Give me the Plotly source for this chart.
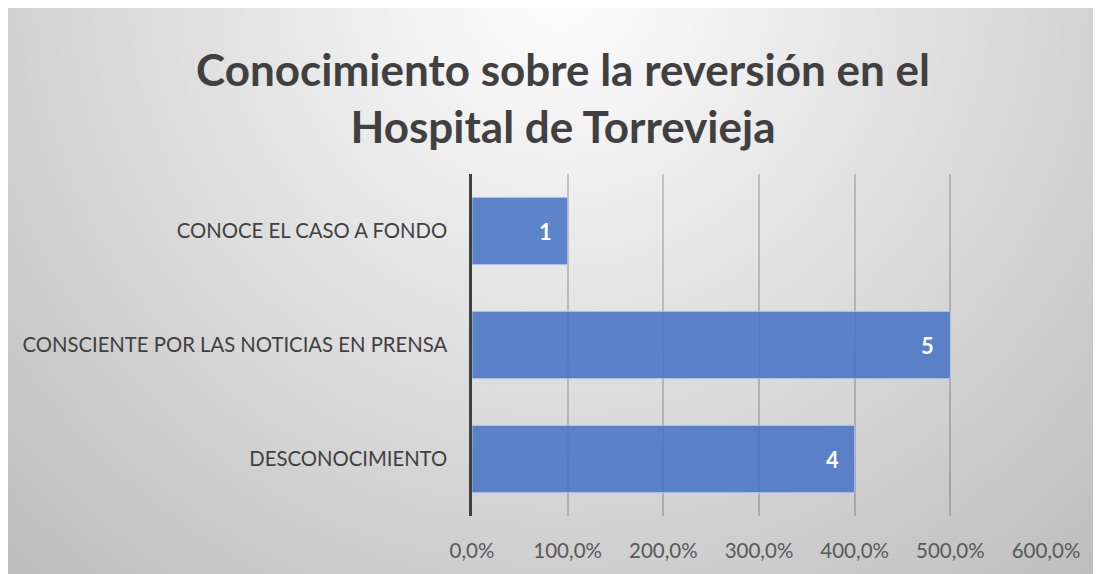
import plotly.graph_objects as go

categories = ["CONOCE EL CASO A FONDO", "CONSCIENTE POR LAS NOTICIAS EN PRENSA", "DESCONOCIMIENTO"]
values = [1, 5, 4]
labels = ["1", "5", "4"]
title_text = "Conocimiento sobre la reversión en el<br>Hospital de Torrevieja"

W, H = 1093, 566
L, R, T, B = 464, 55, 166, 56
pw, ph = W - L - R, H - T - B

def px_to_paper_x(px):
    return (px - L) / pw

def px_to_paper_y(py):
    return 1 - (py - T) / ph

shapes = []
# radial background (white at top center to gray at corners)
cx, cy = 552, -25
Rmax = 820
n = 70
for i in range(n, 0, -1):
    r = Rmax * i / n
    g = int(round(255 - (255 - 188) * (r / Rmax)))
    g = max(0, min(255, g))
    shapes.append(dict(
        type="circle", xref="paper", yref="paper", layer="below",
        xsizemode="pixel", ysizemode="pixel",
        xanchor=px_to_paper_x(cx), yanchor=px_to_paper_y(cy),
        x0=-r, x1=r, y0=-r, y1=r,
        fillcolor=f"rgb({g},{g},{g})", line=dict(width=0),
    ))

fig = go.Figure()
fig.add_trace(go.Bar(
    y=categories, x=values, orientation="h",
    marker=dict(color="rgba(68,114,196,0.85)", line=dict(color="rgba(200,215,240,0.7)", width=1)),
    hoverinfo="x+y",
))

# data labels placed inside the bar ends
annotations = [
    dict(x=v, y=c, xref="x", yref="y", text=t, showarrow=False,
         xanchor="right", yanchor="middle", xshift=-14,
         font=dict(family="Lato", size=22, color="white", weight="bold"))
    for c, v, t in zip(categories, values, labels)
]

fig.update_layout(
    width=W, height=H,
    margin=dict(l=L, r=R, t=T, b=B),
    paper_bgcolor="white",
    plot_bgcolor="rgba(0,0,0,0)",
    separators=",.",
    bargap=0.41,
    showlegend=False,
    shapes=shapes,
    annotations=annotations,
    title=dict(text=title_text, x=(563 - 8) / W, xanchor="center", xref="container",
               y=1 - 78 / H, yanchor="middle", yref="container",
               font=dict(family="Lato", size=44, color="#404040", weight="bold")),
    xaxis=dict(range=[0, 6], dtick=1, tickformat=".1%",
               showgrid=True, gridcolor="rgba(0,0,0,0.18)", gridwidth=1.5,
               zeroline=False, showline=False,
               ticks="", ticklabelstandoff=20,
               tickfont=dict(family="Lato", size=20.5, color="#595959")),
    yaxis=dict(autorange="reversed", showgrid=False,
               showline=True, linecolor="#404040", linewidth=2.5,
               ticks="", ticklabelstandoff=18,
               tickfont=dict(family="Lato", size=20.3, color="#404040")),
)

fig.write_html("out.html")
